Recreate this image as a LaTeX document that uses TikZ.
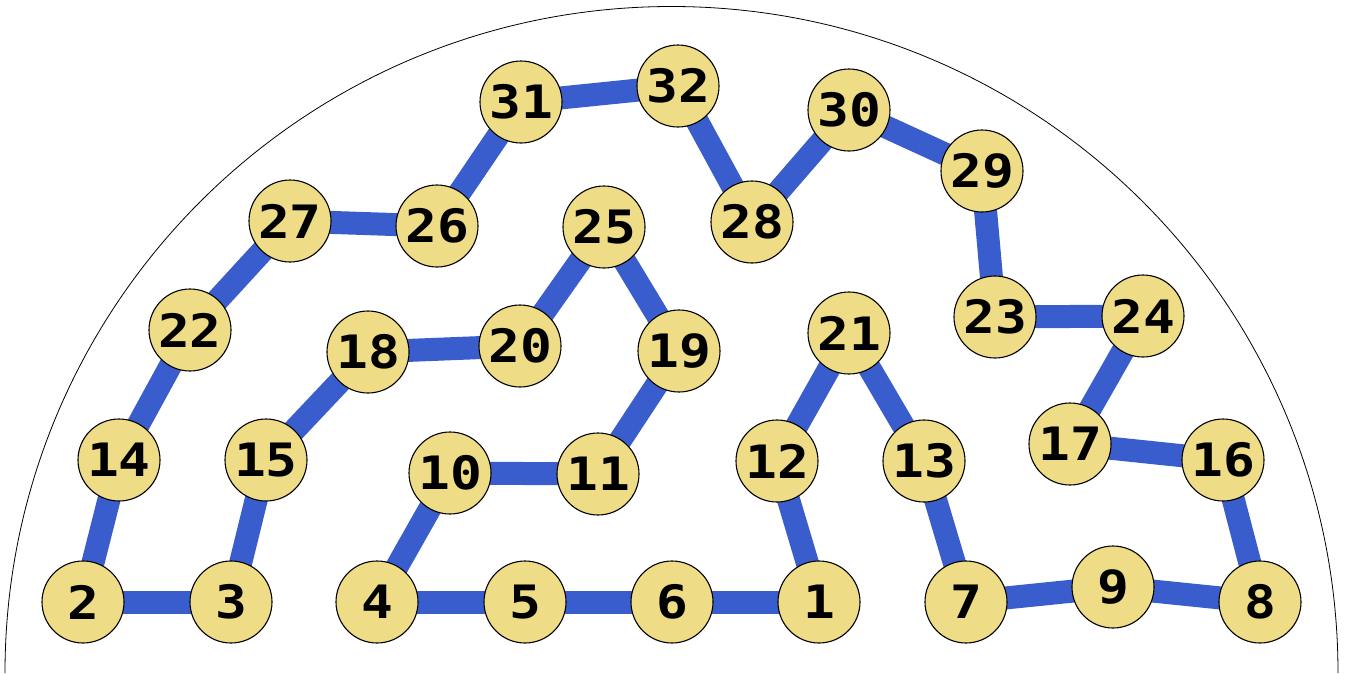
\documentclass[tikz,border=0pt]{standalone}
\usepackage{fontspec}
\setmonofont{DejaVu Sans Mono}[FakeStretch = 1.15]
\usepackage{tikz}
\usetikzlibrary{backgrounds}
\usepackage{xcolor}
\definecolor{stopfill}{HTML}{EFDC86}
\definecolor{trackblue}{HTML}{3A5DCE}

\tikzset{
    stop/.style = {circle, draw = black, line width = 1.1pt, fill = stopfill,
        minimum size = 82pt, inner sep = 0pt,
        font = \fontsize{46}{46}\selectfont\ttfamily\bfseries},
    track/.style = {trackblue, line width = 23pt}
}

\begin{document}
\begin{tikzpicture}[x = 1pt, y = -1pt]
        \useasboundingbox (0,0) rectangle (1345,673);

        % Dome
        \draw[line width = 0.8pt] (5,673) arc (180:0:666.5pt);

        % Bottom row
        \node[stop] (n1) at (819,602) {1};
        \node[stop] (n2) at (83,602) {2};
        \node[stop] (n3) at (231,602) {3};
        \node[stop] (n4) at (377,602) {4};
        \node[stop] (n5) at (525,602) {5};
        \node[stop] (n6) at (672,602) {6};
        \node[stop] (n7) at (966,602) {7};
        \node[stop] (n8) at (1260,602) {8};
        \node[stop] (n9) at (1113,587) {9};

        % Second row
        \node[stop] (n10) at (450,473) {10};
        \node[stop] (n11) at (598,474) {11};
        \node[stop] (n12) at (777,461) {12};
        \node[stop] (n13) at (924,461) {13};
        \node[stop] (n14) at (119,460) {14};
        \node[stop] (n15) at (266,460) {15};
        \node[stop] (n16) at (1223,460) {16};
        \node[stop] (n17) at (1070,444) {17};

        % Third row
        \node[stop] (n18) at (368,352) {18};
        \node[stop] (n19) at (679,351) {19};
        \node[stop] (n20) at (520,346) {20};
        \node[stop] (n21) at (849,333) {21};
        \node[stop] (n22) at (190,330) {22};
        \node[stop] (n23) at (995,317) {23};
        \node[stop] (n24) at (1143,316) {24};

        % Top rows
        \node[stop] (n25) at (604,227) {25};
        \node[stop] (n26) at (437,226) {26};
        \node[stop] (n27) at (290,221) {27};
        \node[stop] (n28) at (752,222) {28};
        \node[stop] (n29) at (982,171) {29};
        \node[stop] (n30) at (849,110) {30};
        \node[stop] (n31) at (521,102) {31};
        \node[stop] (n32) at (678,86) {32};

        % Tour
        \begin{scope}[on background layer]
            \foreach \a/\b in {2/3, 2/14, 14/22, 22/27, 27/26, 26/31, 31/32, 32/28,
                    28/30, 30/29, 29/23, 23/24, 24/17, 17/16, 16/8, 8/9, 9/7, 7/13,
                    13/21, 21/12, 12/1, 1/6, 6/5, 5/4, 4/10, 10/11, 11/19, 19/25,
                    25/20, 20/18, 18/15, 15/3}
                \draw[track] (n\a.center) -- (n\b.center);
        \end{scope}
    \end{tikzpicture}
\end{document}
